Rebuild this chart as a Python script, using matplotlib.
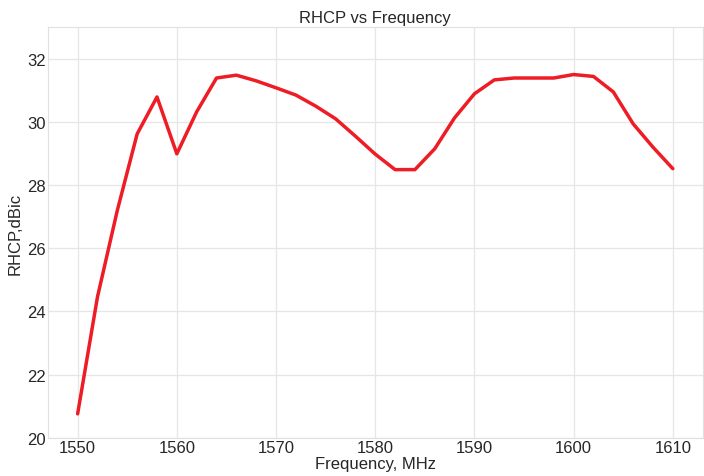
import matplotlib
matplotlib.use('Agg')
import matplotlib.pyplot as plt
import seaborn as sns

sns.set_style('whitegrid')
plt.rcParams['font.family'] = ['Liberation Sans', 'DejaVu Sans']

freq = list(range(1550, 1611, 2))
rhcp = [20.76, 24.46, 27.2, 29.62, 30.79, 28.99, 30.32, 31.39, 31.48, 31.3,
        31.08, 30.85, 30.5, 30.1, 29.55, 28.98, 28.49, 28.49, 29.15, 30.13,
        30.89, 31.33, 31.39, 31.39, 31.39, 31.5, 31.44, 30.95, 29.94, 29.2,
        28.52]

fig, ax = plt.subplots(figsize=(7.04, 4.77), dpi=100)
ax.plot(freq, rhcp, color='#ee1c25', linewidth=2.5)
ax.set_ylim(20, 33)
ax.set_xlim(1547, 1613)
ax.set_yticks([20, 22, 24, 26, 28, 30, 32])
ax.set_title('RHCP vs Frequency', fontsize=12, color='#262626', pad=4)
ax.set_xlabel('Frequency, MHz', fontsize=12, labelpad=1, color='#262626')
ax.set_ylabel('RHCP,dBic', fontsize=12, labelpad=3, color='#262626')
ax.tick_params(labelsize=12, labelcolor='#262626', pad=1.5, length=0)
ax.grid(color='#e6e6e6', linewidth=0.9)
for s in ax.spines.values():
    s.set_color('#e0e0e0')
fig.subplots_adjust(left=0.068, right=0.998, top=0.941, bottom=0.080)
fig.savefig('out.png')
